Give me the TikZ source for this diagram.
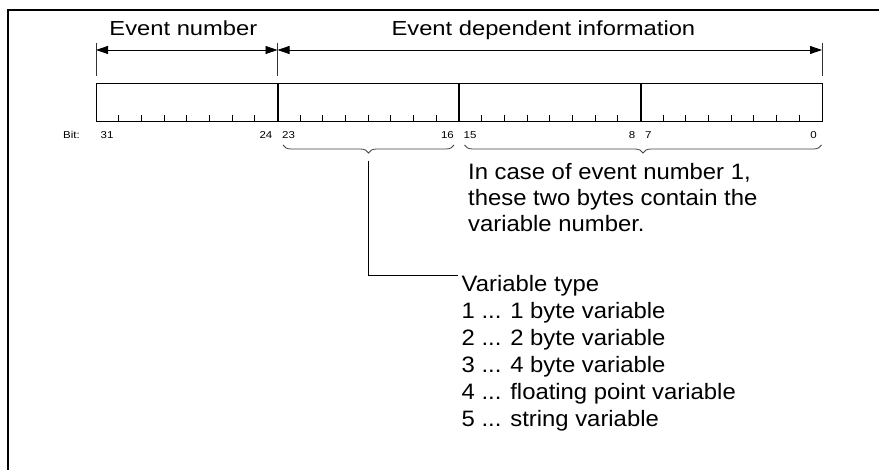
\documentclass[tikz,border=0pt]{standalone}
\usepackage{fontspec}
\setmainfont{Liberation Sans}
\usepackage{graphicx}
\usetikzlibrary{arrows.meta,decorations.pathreplacing}

% heading text, body text and small bit numbers
\newcommand{\headtxt}[1]{\scalebox{1.17}[1]{\fontsize{20.3}{24}\selectfont #1}}
\newcommand{\bigtxt}[1]{\scalebox{1.07}[1]{\fontsize{22.3}{26}\selectfont #1}}
\newcommand{\bittxt}[1]{\scalebox{1.15}[1]{\fontsize{10}{12}\selectfont #1}}

\begin{document}
\begin{tikzpicture}[x=1pt,y=-1pt,
  lbl/.style={inner sep=0pt,anchor=base west},
  lblc/.style={inner sep=0pt,anchor=base},
  lble/.style={inner sep=0pt,anchor=base east},
  frameline/.style={line width=2pt},
  regbox/.style={line width=1pt},
  bytesep/.style={line width=2pt},
  tick/.style={line width=0.9pt},
  extline/.style={line width=0.8pt,black!80},
  dimarrow/.style={line width=0.8pt,
    {Triangle[length=12pt,width=8pt]}-{Triangle[length=12pt,width=8pt]}},
  bracestyle/.style={line width=0.8pt,black!75,
    decorate,decoration={brace,amplitude=8pt,mirror}},
  leader/.style={line width=1pt}]

\useasboundingbox (0,0) rectangle (879,470);

% outer frame (top and left edges)
\draw[frameline] (8,470) -- (8,10) -- (879,10);

% 32-bit register
\draw[regbox] (96,84) rectangle (822,122);
\foreach \b in {1,2,3}
  \draw[bytesep] ({96+\b*181.5},84) -- ({96+\b*181.5},122);
\foreach \b in {0,1,2,3}
  \foreach \t in {1,...,7}
    \draw[tick] ({96+\b*181.5+\t*22.6875},115) -- ({96+\b*181.5+\t*22.6875},122);

% extension lines and dimension arrows
\coordinate (d0) at (96,50);
\coordinate (d1) at (277.5,50);
\coordinate (d2) at (822,50);
\foreach \x in {96,277.5,822}
  \draw[extline] (\x,42.7) -- (\x,76.3);
\draw[dimarrow] (d0) -- (d1);
\draw[dimarrow] (d1) -- (d2);

\node[lblc] (tevn) at (183.4,36) {\headtxt{Event number}};
\node[lblc] (tedi) at (543.4,36) {\headtxt{Event dependent information}};

% bit numbers
\node[lbl] (bit) at (63,138.5) {\bittxt{Bit:}};
\node[lbl]  (n31) at (100.5,138.5) {\bittxt{31}};
\node[lble] (n24) at (272.5,138.5) {\bittxt{24}};
\node[lbl]  (n23) at (282,138.5) {\bittxt{23}};
\node[lble] (n16) at (454,138.5) {\bittxt{16}};
\node[lbl]  (n15) at (463.5,138.5) {\bittxt{15}};
\node[lble] (n8)  at (635.5,138.5) {\bittxt{8}};
\node[lbl]  (n7)  at (645,138.5) {\bittxt{7}};
\node[lble] (n0)  at (817,138.5) {\bittxt{0}};

% braces under the lower bytes
\coordinate (ba0) at (283,145);
\coordinate (ba1) at (454,145);
\coordinate (bb0) at (464.5,145);
\coordinate (bb1) at (821.5,145);
\draw[bracestyle] (ba0) -- (ba1);
\draw[bracestyle] (bb0) -- (bb1);
\coordinate (tipA) at (368.3,160.7);

% note on the two low bytes
\node[lbl] (c1) at (468,179.5) {\bigtxt{In case of event number 1,}};
\node[lbl] (c2) at (468,205.7) {\bigtxt{these two bytes contain the}};
\node[lbl] (c3) at (468,231.9) {\bigtxt{variable number.}};

% variable type list
\node[lbl] (v0) at (461.5,291.7) {\bigtxt{Variable type}};
\node[lbl] (v1) at (461.5,318.7) {\bigtxt{1 ... 1 byte variable}};
\node[lbl] (v2) at (461.5,345.7) {\bigtxt{2 ... 2 byte variable}};
\node[lbl] (v3) at (461.5,372.7) {\bigtxt{3 ... 4 byte variable}};
\node[lbl] (v4) at (461.5,399.7) {\bigtxt{4 ... floating point variable}};
\node[lbl] (v5) at (461.5,426.7) {\bigtxt{5 ... string variable}};

\coordinate (vin) at (458,276);
\draw[leader] (tipA) |- (vin);

\end{tikzpicture}
\end{document}
